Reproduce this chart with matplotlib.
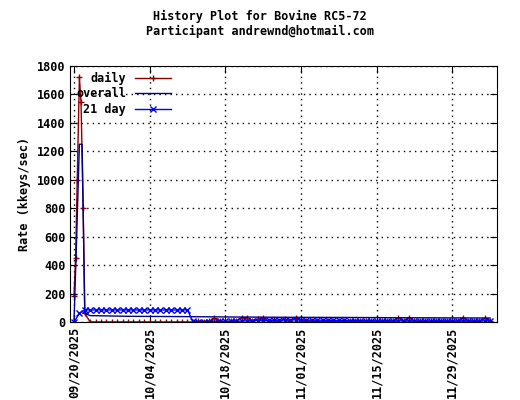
import matplotlib
matplotlib.use("Agg")
import matplotlib.pyplot as plt
import datetime as dt

start = dt.datetime(2025, 9, 20)
# daily rate: (day offset, value)
daily_days = [0, 0.3, 0.6, 1.0, 1.3, 1.7, 2.0, 3, 4, 5, 6, 7, 8, 9, 10, 11, 12, 13, 14, 15, 16, 17, 18, 19, 20,
              21, 22, 23, 24, 25, 26, 27, 28, 29, 30, 31, 32, 33, 34, 35, 36, 37, 38, 39, 40, 41, 42, 43, 44, 45,
              46, 47, 48, 49, 50, 51, 52, 53, 54, 55, 56, 57, 58, 59, 60, 61, 62, 63, 64, 65, 66, 67, 68, 69, 70,
              71, 72, 73, 74, 75, 76, 77]
daily_vals = [180, 450, 1000, 1720, 1550, 800, 60, 0, 0, 0, 0, 0, 0, 0, 0, 0, 0, 0, 0, 0, 0, 0, 0, 0, 0,
              0, 0, 5, 3, 8, 25, 4, 3, 6, 8, 30, 30, 10, 20, 30, 5, 12, 8, 20, 6, 30, 8, 10, 8, 6,
              5, 10, 6, 8, 10, 4, 6, 8, 5, 4, 3, 6, 8, 6, 30, 8, 30, 6, 8, 5, 4, 6, 8, 5, 4,
              6, 30, 8, 5, 6, 25, 10]
overall_days = [0, 0.5, 1.0, 1.5, 2.0, 3, 10, 20, 30, 40, 50, 60, 70, 77]
overall_vals = [0, 600, 1250, 1250, 60, 45, 40, 38, 35, 33, 32, 30, 29, 28]
avg21_days = list(range(0, 78))
avg21_vals = [0, 60, 85, 85, 85, 85, 85, 85, 85, 85, 85, 85, 85, 85, 85, 85, 85, 85, 85, 85, 85, 85,
              5, 3, 3, 3, 3, 4, 4, 5, 6, 6, 8, 9, 10, 11, 12, 12, 13, 14, 14, 15, 15, 14, 14, 13,
              13, 12, 12, 11, 11, 10, 10, 9, 9, 9, 8, 8, 8, 8, 8, 8, 7, 7, 7, 7, 8, 8, 8, 8, 8,
              8, 8, 8, 8, 8, 8, 9]

def d(days):
    return [start + dt.timedelta(days=x) for x in days]

plt.rcParams['font.family'] = ['DejaVu Sans Mono']
fig = plt.figure(figsize=(5.2, 4), dpi=100)
ax = fig.add_axes([0.135, 0.195, 0.821, 0.64])
ax.plot(d(daily_days), daily_vals, color='#8b0000', lw=1, marker='+', ms=5, mew=1, label='daily')
ax.plot(d(overall_days), overall_vals, color='#00008b', lw=1, label='overall')
ax.plot(d(avg21_days), avg21_vals, color='#0000ff', lw=1, marker='x', ms=4, mew=1, label='21 day')
ax.set_xlim(start - dt.timedelta(days=0.7), start + dt.timedelta(days=78.3))
ax.set_ylim(0, 1800)
ax.set_yticks(range(0, 1801, 200))
ticks = [start + dt.timedelta(days=14 * i) for i in range(6)]
ax.set_xticks(ticks)
ax.set_xticklabels([t.strftime('%m/%d/%Y') for t in ticks], rotation=90, fontweight='bold', fontsize=8.5)
for lbl in ax.get_yticklabels():
    lbl.set_fontweight('bold'); lbl.set_fontsize(8.5)
ax.grid(True, color='black', linestyle=(0, (1, 3)), lw=1)
ax.tick_params(direction='in', length=5, top=True, right=True)
ax.set_ylabel('Rate (kkeys/sec)', fontweight='bold', fontsize=8.5)
fig.suptitle('History Plot for Bovine RC5-72\nParticipant andrewnd@hotmail.com', y=0.975,
             fontweight='bold', fontsize=8.5, linespacing=1.2)
leg = ax.legend(loc='upper left', markerfirst=False, frameon=False, prop={'weight': 'bold', 'size': 8.5},
                borderaxespad=0.1, handlelength=3, labelspacing=0.2, handletextpad=0.8,
                bbox_to_anchor=(0.0, 1.0))
fig.savefig('out.png', dpi=100)
